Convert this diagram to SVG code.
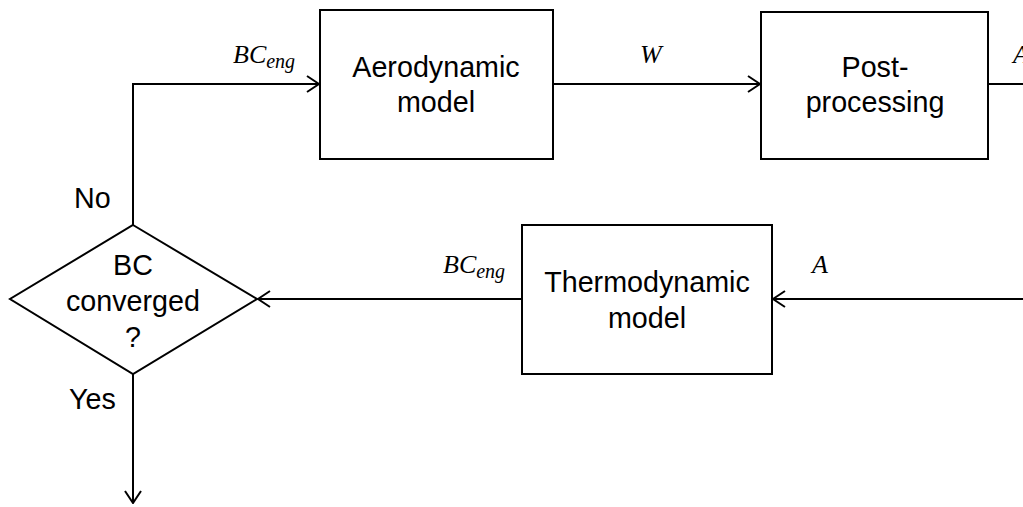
<svg xmlns="http://www.w3.org/2000/svg" width="1023" height="507" viewBox="0 0 1023 507">
<style>
.box{fill:#fff;stroke:#000;stroke-width:2}
.t{font-family:"Liberation Sans",Arial,sans-serif;font-size:28.7px;fill:#000;text-anchor:middle}
.l{font-family:"Liberation Sans",Arial,sans-serif;font-size:28.7px;fill:#000}
.m{font-family:"Liberation Serif","Times New Roman",serif;font-style:italic;font-size:26px;fill:#000}
.s{font-size:20px}
.c{fill:none;stroke:#000;stroke-width:2}
</style>
<defs>
<marker id="ah" markerUnits="userSpaceOnUse" viewBox="0 0 14 18" refX="13" refY="9" markerWidth="14" markerHeight="18" orient="auto">
<path d="M1,1 L13,9 L1,17" fill="none" stroke="#000" stroke-width="2"/>
</marker>
</defs>
<g id="connectors">
<polyline class="c" points="133,225 133,84 319,84" marker-end="url(#ah)"/>
<line class="c" x1="553" y1="84" x2="760" y2="84" marker-end="url(#ah)"/>
<line class="c" x1="988" y1="84" x2="1023" y2="84"/>
<line class="c" x1="1023" y1="299" x2="773" y2="299" marker-end="url(#ah)"/>
<line class="c" x1="522" y1="299" x2="258" y2="299" marker-end="url(#ah)"/>
<line class="c" x1="133" y1="374" x2="133" y2="503" marker-end="url(#ah)"/>
<text class="m" x="233" y="63">BC<tspan class="s" dy="5">eng</tspan></text>
<text class="m" x="640" y="63">W</text>
<text class="m" x="1013" y="63">A</text>
<text class="m" x="443" y="273">BC<tspan class="s" dy="5">eng</tspan></text>
<text class="m" x="812" y="273">A</text>
<text class="l" x="74" y="208">No</text>
<text class="l" x="69" y="409">Yes</text>
</g>
<g id="aero">
<rect class="box" x="320" y="10" width="233" height="149"/>
<text class="t" x="436" y="77">Aerodynamic</text>
<text class="t" x="436" y="112">model</text>
</g>
<g id="post">
<rect class="box" x="761" y="12" width="227" height="147"/>
<text class="t" x="875" y="77">Post-</text>
<text class="t" x="875" y="112">processing</text>
</g>
<g id="thermo">
<rect class="box" x="522" y="225" width="250" height="149"/>
<text class="t" x="647" y="292">Thermodynamic</text>
<text class="t" x="647" y="328">model</text>
</g>
<g id="decision">
<polygon class="box" points="133,225 257,299 133,374 10,299"/>
<text class="t" x="133" y="275">BC</text>
<text class="t" x="133" y="311">converged</text>
<text class="t" x="133" y="347">?</text>
</g>
</svg>
